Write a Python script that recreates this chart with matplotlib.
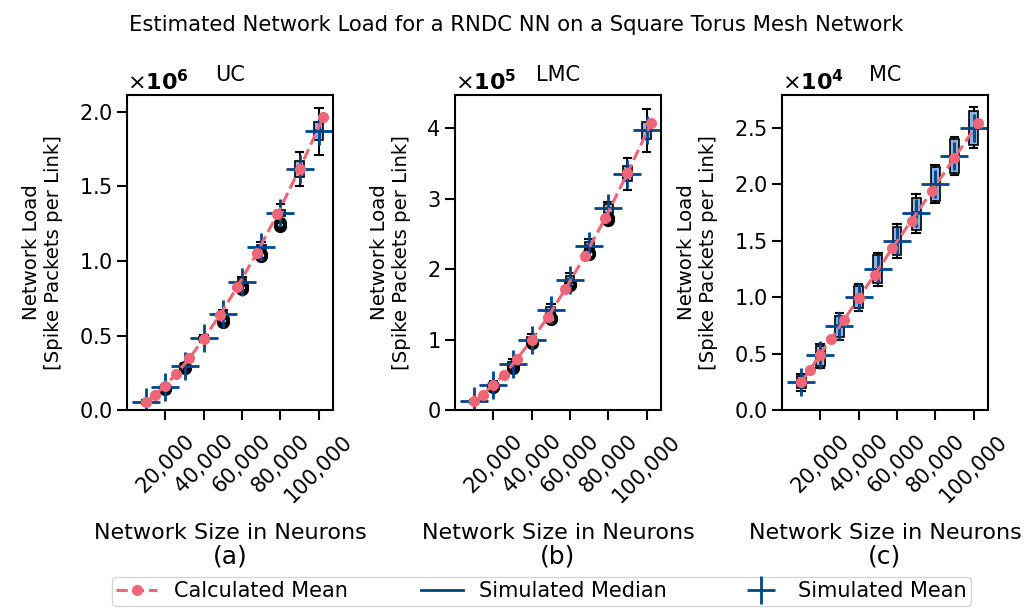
import matplotlib
matplotlib.use('Agg')
import matplotlib.pyplot as plt
from matplotlib.lines import Line2D
import numpy as np

# network sizes of the simulations (box positions)
sim_sizes = [10000, 20000, 30000, 40000, 50000, 60000, 70000, 80000, 90000, 100000]
# network sizes of the calculated means (square meshes)
calc_sizes = [10000, 14400, 19600, 25600, 32400, 40000, 48400, 57600, 67600, 78400, 90000, 102400]

panel_names = ['UC', 'LMC', 'MC']
panel_tags = ['(a)', '(b)', '(c)']
panel_scales = [1e6, 1e5, 1e4]

# UC, values in units of 1e6
uc_calc = [0.056, 0.101, 0.163, 0.242, 0.347, 0.479, 0.638, 0.828, 1.052, 1.313, 1.617, 1.964]
uc_mean = [0.056, 0.156, 0.295, 0.481, 0.644, 0.861, 1.092, 1.320, 1.615, 1.874]
uc_med = [0.057, 0.158, 0.298, 0.483, 0.648, 0.865, 1.096, 1.325, 1.618, 1.876]
uc_q1 = [0.050, 0.148, 0.285, 0.470, 0.632, 0.848, 1.078, 1.300, 1.562, 1.812]
uc_q3 = [0.062, 0.165, 0.308, 0.494, 0.660, 0.878, 1.110, 1.345, 1.671, 1.932]
uc_lo = [0.045, 0.140, 0.275, 0.458, 0.620, 0.836, 1.065, 1.280, 1.503, 1.711]
uc_hi = [0.068, 0.172, 0.318, 0.505, 0.672, 0.890, 1.125, 1.380, 1.732, 2.025]
uc_fliers = [[], [0.140, 0.150], [0.280, 0.292], [], [0.592, 0.610],
             [0.815, 0.832], [1.035, 1.050], [1.235, 1.255], [], []]

# LMC, values in units of 1e5
lmc_calc = [0.127, 0.222, 0.354, 0.506, 0.728, 1.001, 1.317, 1.720, 2.181, 2.725, 3.362, 4.071]
lmc_mean = [0.127, 0.364, 0.661, 1.001, 1.416, 1.851, 2.333, 2.867, 3.353, 3.976]
lmc_med = [0.128, 0.366, 0.664, 1.004, 1.420, 1.855, 2.338, 2.872, 3.356, 3.978]
lmc_q1 = [0.110, 0.340, 0.630, 0.960, 1.370, 1.800, 2.280, 2.800, 3.244, 3.840]
lmc_q3 = [0.140, 0.390, 0.690, 1.040, 1.460, 1.900, 2.390, 2.930, 3.466, 4.090]
lmc_lo = [0.100, 0.320, 0.600, 0.920, 1.330, 1.760, 2.240, 2.760, 3.126, 3.654]
lmc_hi = [0.150, 0.410, 0.720, 1.080, 1.500, 1.940, 2.430, 2.950, 3.575, 4.270]
lmc_fliers = [[], [0.330, 0.350], [0.605, 0.625], [0.960], [1.290, 1.310],
              [1.775, 1.795], [2.210, 2.230], [2.700, 2.720], [], []]

# MC, values in units of 1e4
mc_calc = [0.247, 0.353, 0.486, 0.631, 0.801, 0.993, 1.199, 1.435, 1.678, 1.943, 2.235, 2.539]
mc_mean = [0.247, 0.492, 0.748, 0.998, 1.249, 1.499, 1.749, 2.000, 2.250, 2.495]
mc_med = [0.248, 0.494, 0.750, 1.000, 1.250, 1.500, 1.750, 2.002, 2.252, 2.497]
mc_q1 = [0.198, 0.389, 0.648, 0.905, 1.125, 1.375, 1.596, 1.855, 2.102, 2.347]
mc_q3 = [0.300, 0.565, 0.837, 1.095, 1.369, 1.625, 1.876, 2.150, 2.398, 2.650]
mc_lo = [0.170, 0.370, 0.620, 0.880, 1.100, 1.350, 1.570, 1.830, 2.080, 2.318]
mc_hi = [0.320, 0.590, 0.860, 1.120, 1.390, 1.650, 1.910, 2.170, 2.420, 2.680]
mc_fliers = [[] for _ in sim_sizes]

panels = [
    (uc_calc, uc_mean, uc_med, uc_q1, uc_q3, uc_lo, uc_hi, uc_fliers),
    (lmc_calc, lmc_mean, lmc_med, lmc_q1, lmc_q3, lmc_lo, lmc_hi, lmc_fliers),
    (mc_calc, mc_mean, mc_med, mc_q1, mc_q3, mc_lo, mc_hi, mc_fliers),
]
y_tops = [2.114e6, 4.47e5, 2.79e4]

CALC_COLOR = '#EE6677'
SIM_COLOR = '#004488'
BOX_COLOR = '#8DB2E3'

plt.rcParams['axes.linewidth'] = 1.5
plt.rcParams['xtick.major.width'] = 1.5
plt.rcParams['ytick.major.width'] = 1.5
plt.rcParams['xtick.major.size'] = 7
plt.rcParams['ytick.major.size'] = 7

fig = plt.figure(figsize=(10.33, 6.16), dpi=100)
fig.suptitle('Estimated Network Load for a RNDC NN on a Square Torus Mesh Network',
             fontsize=15.2, y=0.975)

lefts = [0.123, 0.4405, 0.757]
for i, (calc, mean, med, q1, q3, lo, hi, fl) in enumerate(panels):
    ax = fig.add_axes([lefts[i], 0.334, 0.1994, 0.512])
    s = panel_scales[i]
    stats = []
    for j in range(len(sim_sizes)):
        stats.append({'med': med[j] * s, 'q1': q1[j] * s, 'q3': q3[j] * s,
                      'whislo': lo[j] * s, 'whishi': hi[j] * s,
                      'mean': mean[j] * s, 'fliers': np.array(fl[j]) * s})
    ax.bxp(stats, positions=sim_sizes, widths=4600, capwidths=4000,
           patch_artist=True, showmeans=True, manage_ticks=False,
           boxprops=dict(facecolor=BOX_COLOR, edgecolor='black', linewidth=1.2),
           whiskerprops=dict(color='black', linewidth=1.5),
           capprops=dict(color='black', linewidth=1.5),
           medianprops=dict(color=SIM_COLOR, linewidth=2),
           meanprops=dict(marker='+', markeredgecolor=SIM_COLOR, markersize=20,
                          markeredgewidth=2),
           flierprops=dict(marker='o', markerfacecolor='none', markeredgecolor='black',
                           markersize=7, markeredgewidth=2.5))
    ax.plot(calc_sizes, np.array(calc) * s, '--o', color=CALC_COLOR, markersize=7,
            linewidth=2.2, zorder=5)

    ax.set_xlim(0, 107500)
    ax.set_ylim(0, y_tops[i])
    ticks = [20000, 40000, 60000, 80000, 100000]
    ax.set_xticks(ticks)
    ax.set_xticklabels([f'{t:,}' for t in ticks], rotation=45, fontsize=15)
    ax.tick_params(axis='x', pad=8)
    ax.tick_params(axis='y', labelsize=15)
    ax.ticklabel_format(axis='y', style='sci', scilimits=(0, 0), useMathText=True)
    ax.yaxis.get_offset_text().set_fontsize(16)
    ax.yaxis.get_offset_text().set_fontweight('bold')
    ax.set_title(panel_names[i], fontsize=15, pad=10)
    ax.set_xlabel('Network Size in Neurons', fontsize=16, labelpad=12)
    ax.set_ylabel('Network Load\n[Spike Packets per Link]', fontsize=14.2, labelpad=11)
    ax.text(0.5, -0.465, panel_tags[i], transform=ax.transAxes, ha='center',
            va='center', fontsize=18)

handles = [
    Line2D([], [], color=CALC_COLOR, linestyle='--', marker='o', markersize=7, linewidth=2.2),
    Line2D([], [], color=SIM_COLOR, linewidth=2),
    Line2D([], [], color=SIM_COLOR, linestyle='none', marker='+', markersize=20,
           markeredgewidth=2),
]
fig.legend(handles, ['Calculated Mean', 'Simulated Median', 'Simulated Mean'],
           loc='lower center', bbox_to_anchor=(0.524, 0.0), ncol=3, fontsize=15,
           columnspacing=3.5, handlelength=2.0, borderpad=0.2)

fig.savefig('out.png', dpi=100)
